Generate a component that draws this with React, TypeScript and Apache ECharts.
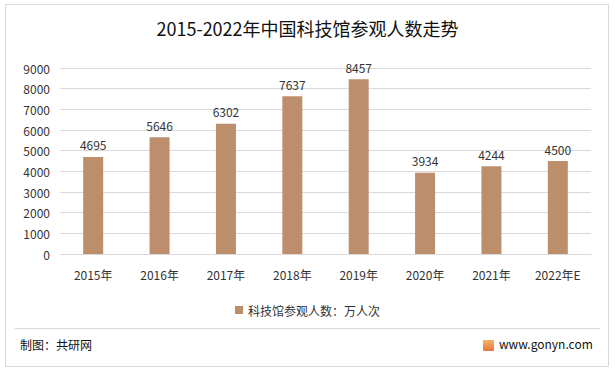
import React, { useEffect, useRef } from "react";
import * as echarts from "echarts";

const categories = ["2015年", "2016年", "2017年", "2018年", "2019年", "2020年", "2021年", "2022年E"];
const visitors = [4695, 5646, 6302, 7637, 8457, 3934, 4244, 4500];
const seriesName = "科技馆参观人数：万人次";
const titleText = "2015-2022年中国科技馆参观人数走势";
const sourceText = "制图：共研网";
const siteText = "www.gonyn.com";

export default function App() {
  const ref = useRef<HTMLDivElement>(null);
  useEffect(() => {
    document.body.style.margin = "0";
    const chart = echarts.init(ref.current!, null, { renderer: "svg" });
    const font = "'Noto Sans CJK SC', 'Noto Sans', sans-serif";
    chart.setOption({
      animation: false,
      backgroundColor: "#ffffff",
      title: {
        text: titleText,
        left: "center",
        top: 14,
        textStyle: { fontFamily: font, fontSize: 18, fontWeight: "normal", color: "#111" },
      },
      grid: { left: 60, right: 24, top: 68, bottom: 119 },
      legend: {
        bottom: 52,
        left: "center",
        itemWidth: 8,
        itemHeight: 8,
        icon: "rect",
        textStyle: { fontFamily: font, fontSize: 12, color: "#333" },
        data: [seriesName],
      },
      xAxis: {
        type: "category",
        data: categories,
        axisLine: { lineStyle: { color: "#d9d9d9" } },
        axisTick: { show: false },
        axisLabel: { fontFamily: font, fontSize: 12, color: "#333", margin: 14 },
      },
      yAxis: {
        type: "value",
        min: 0,
        max: 9000,
        interval: 1000,
        axisLine: { show: false },
        axisTick: { show: false },
        splitLine: { lineStyle: { color: "#d9d9d9" } },
        axisLabel: {
          fontFamily: font,
          fontSize: 12,
          color: "#333",
          margin: 10,
          formatter: (v: number) => String(v),
        },
      },
      series: [
        {
          name: seriesName,
          type: "bar",
          data: visitors,
          barWidth: 20,
          itemStyle: { color: "#BD8E6B" },
          label: {
            show: true,
            position: "top",
            distance: 6,
            fontFamily: font,
            fontSize: 12,
            color: "#333",
          },
        },
      ],
      graphic: [
        {
          type: "rect",
          shape: { x: 5.5, y: 4.5, width: 603, height: 362 },
          style: { fill: "none", stroke: "#d9d9d9", lineWidth: 1 },
          silent: true,
        },
        {
          type: "line",
          shape: { x1: 15, y1: 328.5, x2: 600, y2: 328.5 },
          style: { stroke: "#d9d9d9", lineWidth: 1 },
        },
        {
          type: "text",
          left: 20,
          top: 338,
          style: { text: sourceText, fontFamily: font, fontSize: 12, fill: "#111" },
        },
        {
          type: "rect",
          shape: { x: 483, y: 340, width: 11, height: 11, r: 1 },
          style: {
            fill: new echarts.graphic.LinearGradient(0, 0, 0, 1, [
              { offset: 0, color: "#F6B26B" },
              { offset: 1, color: "#E8743B" },
            ]),
          },
        },
        {
          type: "text",
          left: 499,
          top: 337,
          style: { text: siteText, fontFamily: font, fontSize: 12, fill: "#111" },
        },
      ],
    });
    return () => chart.dispose();
  }, []);
  return (
    <div
      ref={ref}
      style={{ position: "absolute", left: 0, top: 0, width: 615, height: 373 }}
    />
  );
}
